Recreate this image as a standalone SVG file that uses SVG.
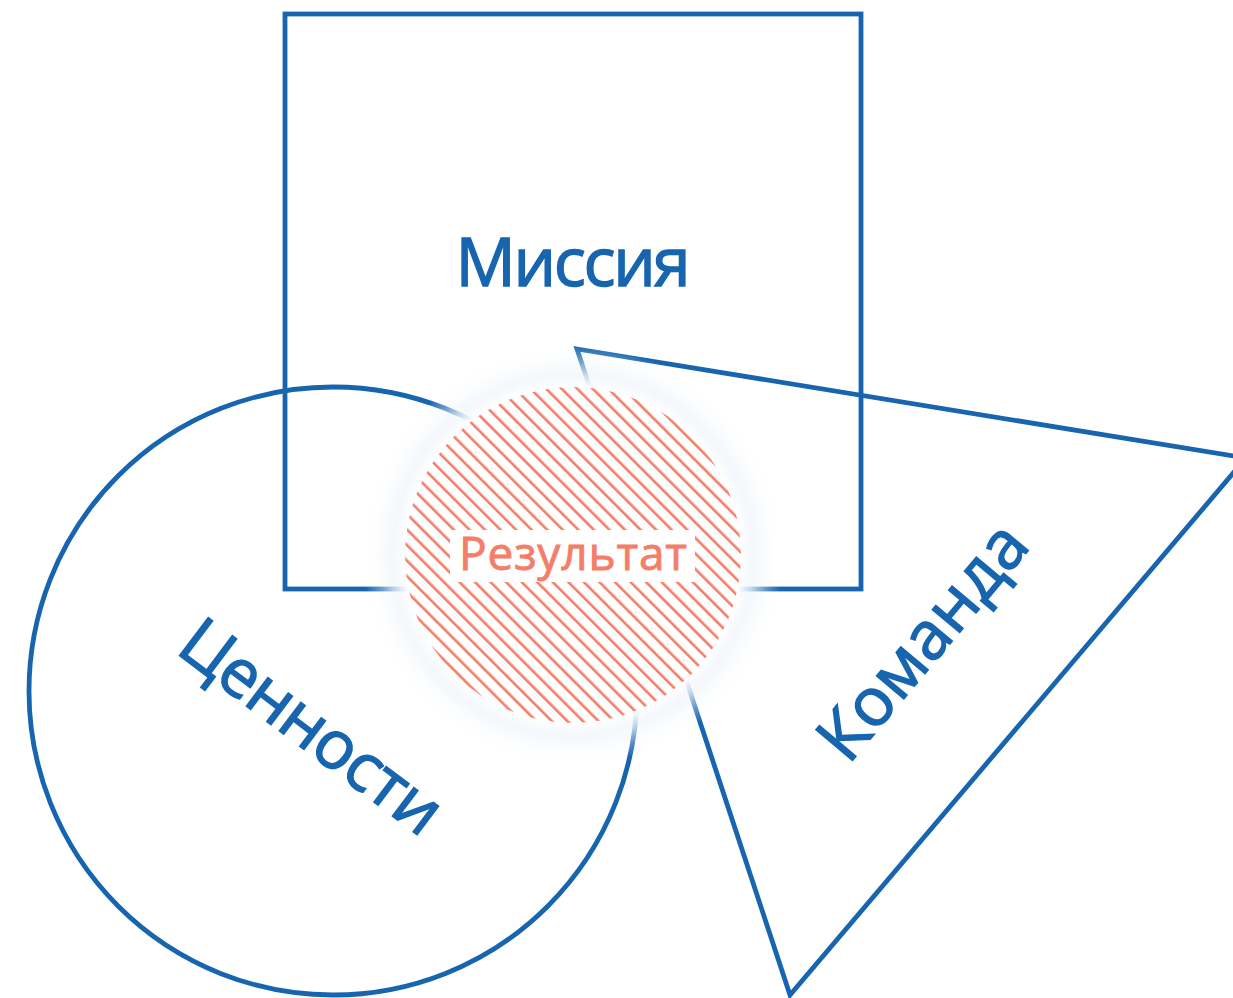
<svg xmlns="http://www.w3.org/2000/svg" width="1233" height="998" viewBox="0 0 1233 998">
<style>
.shape{fill:none;stroke:#1765AF;stroke-width:4.8}
.lbl{font-family:"Open Sans","Noto Sans","Liberation Sans",sans-serif;fill:#1765AF;stroke:#1765AF;stroke-width:1.4;font-size:67px}
.res{font-family:"Open Sans","Noto Sans","Liberation Sans",sans-serif;fill:#F47E68;stroke:#F47E68;stroke-width:0.9;font-size:46px}
</style>
<defs>
<pattern id="hatch" patternUnits="userSpaceOnUse" width="11" height="11" patternTransform="rotate(-45)">
<rect x="0" y="0" width="2.6" height="11" fill="#F47E68"/>
</pattern>
<radialGradient id="glow" gradientUnits="userSpaceOnUse" cx="573" cy="555" r="210">
<stop offset="0.8" stop-color="#ffffff" stop-opacity="1"/>
<stop offset="0.86" stop-color="#f1f6fb" stop-opacity="0.8"/>
<stop offset="0.93" stop-color="#f4f8fc" stop-opacity="0.35"/>
<stop offset="1" stop-color="#ffffff" stop-opacity="0"/>
</radialGradient>
</defs>
<rect width="1233" height="998" fill="#ffffff"/>
<g id="connectors"></g>
<g id="mission">
<rect class="shape" x="285" y="14" width="576" height="575"/>
<text class="lbl" x="573" y="286" text-anchor="middle" textLength="235">Миссия</text>
</g>
<g id="values">
<circle class="shape" cx="333" cy="691" r="304"/>
<text class="lbl" text-anchor="middle" transform="translate(298,745) rotate(37)" textLength="310">Ценности</text>
</g>
<g id="team">
<polygon class="shape" points="577,349 1246,458 790,995"/>
<text class="lbl" text-anchor="middle" transform="translate(940,656) rotate(-50)">Команда</text>
</g>
<g id="result">
<circle cx="573" cy="555" r="210" fill="url(#glow)"/>
<circle cx="573" cy="555" r="168" fill="#ffffff"/>
<circle cx="573" cy="555" r="168" fill="url(#hatch)"/>
<rect x="450" y="530" width="245" height="52" fill="#ffffff"/>
<text class="res" x="573" y="570" text-anchor="middle" textLength="228">Результат</text>
</g>
</svg>
